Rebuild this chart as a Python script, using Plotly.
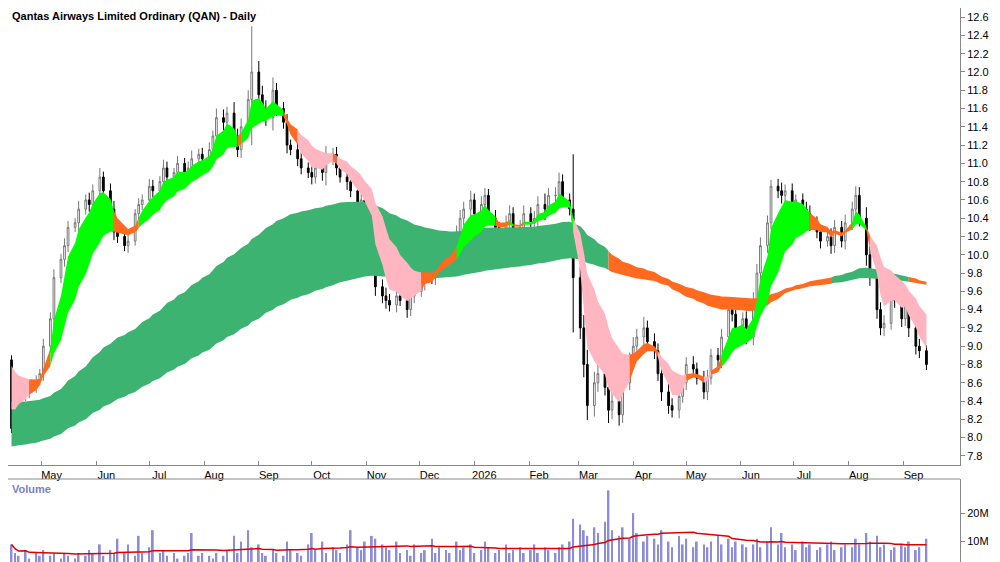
import pandas as pd
import plotly.graph_objects as go
from plotly.subplots import make_subplots

# Closing prices, one bar per two trading days
close = [8.1, 8.3, 8.45, 8.5, 8.55, 8.62, 8.7, 9.0, 9.3, 9.75,
         9.95, 10.1, 10.3, 10.35, 10.5, 10.6, 10.55, 10.7, 10.85, 10.7,
         10.5, 10.25, 10.2, 10.1, 10.15, 10.45, 10.55, 10.6, 10.75, 10.7,
         10.8, 10.95, 10.85, 10.9, 11.0, 10.9, 10.95, 11.05, 11.1, 11.05,
         11.15, 11.3, 11.5, 11.45, 11.55, 11.3, 11.15, 11.4, 11.7, 12.0,
         11.75, 11.6, 11.5, 11.8, 11.6, 11.45, 11.2, 11.15, 11.05, 10.95,
         10.9, 10.85, 10.95, 10.9, 11.05, 11.1, 10.95, 10.85, 10.8, 10.7,
         10.55, 10.6, 10.45, 10.2, 9.65, 9.55, 9.5, 9.45, 9.55, 9.5,
         9.4, 9.55, 9.6, 9.7, 9.85, 9.75, 9.9, 10.0, 10.1, 10.0,
         10.25, 10.4, 10.5, 10.6, 10.45, 10.55, 10.65, 10.4, 10.3, 10.2,
         10.35, 10.45, 10.2, 10.3, 10.45, 10.35, 10.4, 10.55, 10.5, 10.65,
         10.65, 10.8, 10.6, 10.5, 9.75, 9.2, 8.8, 8.35, 8.6, 8.7,
         8.55, 8.3, 8.4, 8.25, 8.6, 8.85, 9.0, 9.1, 9.2, 9.05,
         8.95, 8.7, 8.5, 8.35, 8.3, 8.45, 8.6, 8.8, 8.75, 8.65,
         8.5, 8.65, 8.9, 8.85, 9.1, 9.4, 9.35, 9.2, 9.3, 9.1,
         9.5, 9.8, 10.1, 10.35, 10.75, 10.7, 10.65, 10.7, 10.55, 10.6,
         10.5, 10.45, 10.35, 10.25, 10.15, 10.2, 10.1, 10.3, 10.15, 10.35,
         10.5, 10.65, 10.4, 10.0, 9.75, 9.4, 9.2, 9.25, 9.6, 9.5,
         9.3, 9.45, 9.2, 9.0, 8.95, 8.8]
first_open = 8.85
# wick length beyond the body, in cents
wick = [5, 6, 8, 5, 7, 6, 5, 8, 7, 9,
        6, 8, 7, 5, 9, 6, 8, 7, 10, 6,
        8, 9, 7, 6, 8, 5, 7, 6, 8, 7,
        6, 9, 7, 5, 8, 6, 7, 9, 6, 7,
        8, 6, 10, 9, 7, 12, 8, 9, 10, 50,
        12, 10, 9, 14, 8, 7, 9, 6, 8, 7,
        6, 8, 7, 9, 14, 7, 8, 6, 9, 7,
        8, 7, 9, 12, 10, 8, 9, 7, 8, 6,
        9, 7, 8, 6, 9, 7, 8, 6, 9, 8,
        7, 9, 8, 10, 7, 9, 8, 7, 9, 6,
        8, 9, 7, 8, 9, 7, 8, 9, 12, 8,
        9, 10, 8, 7, 60, 12, 14, 16, 12, 10,
        9, 14, 10, 12, 9, 8, 10, 9, 12, 8,
        9, 8, 10, 9, 8, 9, 7, 8, 9, 7,
        8, 9, 7, 8, 9, 10, 8, 9, 7, 8,
        9, 10, 9, 8, 7, 8, 9, 7, 8, 6,
        7, 8, 9, 7, 8, 6, 9, 8, 7, 9,
        8, 10, 9, 12, 9, 10, 8, 9, 7, 8,
        9, 8, 10, 9, 8, 6]
# volume in millions
volume = [9, 6, 5, 7, 4, 6, 5, 7, 5, 6,
          4, 6, 5, 4, 6, 5, 7, 6, 9, 5,
          7, 6, 11, 6, 9, 5, 12, 6, 8, 14,
          6, 7, 5, 6, 4, 5, 6, 13, 5, 6,
          5, 4, 6, 5, 7, 12, 6, 10, 14, 8,
          9, 6, 5, 7, 6, 5, 10, 7, 6, 5,
          9, 13, 7, 10, 6, 8, 7, 6, 9, 14,
          8, 7, 10, 12, 11, 9, 8, 7, 10, 6,
          7, 5, 9, 6, 7, 11, 6, 8, 7, 6,
          10, 7, 8, 9, 6, 7, 10, 8, 6, 7,
          9, 6, 7, 8, 6, 7, 9, 6, 8, 7,
          6, 8, 9, 10, 18, 16, 14, 12, 15, 13,
          17, 28, 14, 12, 15, 11, 20, 13, 10, 12,
          11, 9, 14, 10, 8, 12, 9, 11, 8, 10,
          9, 8, 10, 12, 9, 11, 8, 10, 9, 8,
          9, 11, 8, 10, 15, 9, 13, 8, 9, 7,
          10, 8, 9, 7, 8, 9, 10, 7, 8, 9,
          8, 11, 9, 13, 10, 12, 8, 9, 7, 8,
          9, 8, 10, 7, 8, 11]

# Guppy style ribbons: periods in two-day bars, with starting values carried from before the window
short_periods = [4, 5, 6, 8, 10, 13]
short_seed = [8.45, 8.55, 8.65, 8.75, 8.82, 8.9]
long_periods = [70, 80, 90, 105, 120, 140]
long_seed = [8.4, 8.3, 8.2, 8.1, 8.0, 7.9]

dates = pd.bdate_range('2025-04-14', periods=len(close), freq='2B')
df = pd.DataFrame({'close': close, 'wick': wick, 'volume': volume}, index=dates)
df['open'] = df['close'].shift(1).fillna(first_open)
df['high'] = df[['open', 'close']].max(axis=1) + df['wick'] / 100
df['low'] = df[['open', 'close']].min(axis=1) - df['wick'] / 100
df['vol_ma'] = df['volume'].rolling(25, min_periods=1).mean()


def ema(period, seed):
    a = 2 / (period + 1)
    out, v = [], seed
    for c in close:
        v = v + a * (c - v)
        out.append(v)
    return out


def ribbon(periods, seeds):
    emas = pd.DataFrame({p: ema(p, s) for p, s in zip(periods, seeds)}, index=dates)
    steps = emas.diff(axis=1).iloc[:, 1:]
    state = ['up' if u else 'down' if d else 'mix'
             for u, d in zip((steps < 0).all(axis=1), (steps > 0).all(axis=1))]
    return emas.max(axis=1), emas.min(axis=1), state


fig = make_subplots(rows=2, cols=1, shared_xaxes=True, vertical_spacing=0.02)


def add_ribbon(upper, lower, state, colors):
    i = 0
    n = len(state)
    while i < n:
        j = i
        while j + 1 < n and state[j + 1] == state[i]:
            j += 1
        end = min(j + 2, n)
        xs = list(dates[i:end]) + list(dates[i:end])[::-1]
        ys = list(upper.iloc[i:end]) + list(lower.iloc[i:end])[::-1]
        fig.add_trace(go.Scatter(x=xs, y=ys, fill='toself', fillcolor=colors[state[i]],
                                 line=dict(width=0), mode='lines', hoverinfo='skip',
                                 showlegend=False), row=1, col=1)
        i = j + 1


lu, ll, ls = ribbon(long_periods, long_seed)
add_ribbon(lu, ll, ls, {'up': '#3cb371', 'down': '#f08080', 'mix': '#ff6a1f'})
su, sl, ss = ribbon(short_periods, short_seed)
add_ribbon(su, sl, ss, {'up': '#00ff00', 'down': '#ffb6c1', 'mix': '#ff6a1f'})

fig.add_trace(go.Candlestick(x=dates, open=df['open'], high=df['high'], low=df['low'], close=df['close'],
                             increasing=dict(fillcolor='white', line=dict(color='#777777', width=1)),
                             decreasing=dict(fillcolor='black', line=dict(color='black', width=1)),
                             showlegend=False), row=1, col=1)

fig.add_trace(go.Bar(x=dates, y=df['volume'] * 1e6, marker_color='#8c8cd8', marker_line_width=0,
                     width=1000 * 3600 * 24 * 1.0, showlegend=False), row=2, col=1)
fig.add_trace(go.Scatter(x=dates, y=df['vol_ma'] * 1e6, mode='lines', line=dict(color='#e00000', width=1.5),
                         showlegend=False), row=2, col=1)

month_ticks = pd.date_range('2025-05-01', '2026-09-01', freq='MS')
month_text = ['May', 'Jun', 'Jul', 'Aug', 'Sep', 'Oct', 'Nov', 'Dec', '2026',
              'Feb', 'Mar', 'Apr', 'May', 'Jun', 'Jul', 'Aug', 'Sep']

fig.update_layout(
    width=1000, height=562, margin=dict(l=0, r=48, t=0, b=0),
    plot_bgcolor='white', paper_bgcolor='white',
    font=dict(family='Arial, Liberation Sans', size=11, color='black'),
    xaxis_rangeslider_visible=False,
    yaxis=dict(domain=[1 - 457 / 562, 1]),
    yaxis2=dict(domain=[0, 1 - 471 / 562]),
)
xr = [pd.Timestamp('2025-04-12'), pd.Timestamp('2026-10-03')]
fig.update_xaxes(range=xr, showgrid=False, showline=True, linecolor='#888888', showticklabels=True,
                 tickvals=month_ticks, ticktext=month_text, ticks='inside', ticklen=4,
                 tickcolor='#888888', ticklabelshift=10, tickfont=dict(size=11, color='black'),
                 row=1, col=1)
fig.update_xaxes(range=xr, showgrid=False, showticklabels=False, showline=True, linecolor='#888888',
                 ticks='', row=2, col=1)
fig.update_yaxes(range=[7.70, 12.70], side='right', showgrid=False, showline=True, linecolor='#888888',
                 dtick=0.2, tickformat='.1f', ticks='outside', ticklen=4, tickcolor='#888888',
                 tickfont=dict(size=11), row=1, col=1)
fig.update_yaxes(range=[0, 32e6], side='right', showgrid=False, showline=True, linecolor='#888888',
                 tickvals=[10e6, 20e6], ticktext=['10M', '20M'], ticks='outside', ticklen=4,
                 tickcolor='#888888', tickfont=dict(size=11), row=2, col=1)
# separator line on top of the volume panel
fig.add_shape(type='line', xref='paper', yref='paper', x0=0, x1=1, y0=1 - 471 / 562, y1=1 - 471 / 562,
              line=dict(color='#888888', width=1))

fig.add_annotation(text='<b>Qantas Airways Limited Ordinary (QAN) - Daily</b>', xref='paper', yref='paper',
                   x=0.002, y=1.0, xanchor='left', yanchor='top', showarrow=False,
                   font=dict(size=11, color='black'))
fig.add_annotation(text='<b>Volume</b>', xref='paper', yref='paper', x=0.002, y=1 - 473 / 562,
                   xanchor='left', yanchor='top', showarrow=False, font=dict(size=11, color='#8080c0'))

fig.write_html("out.html")
